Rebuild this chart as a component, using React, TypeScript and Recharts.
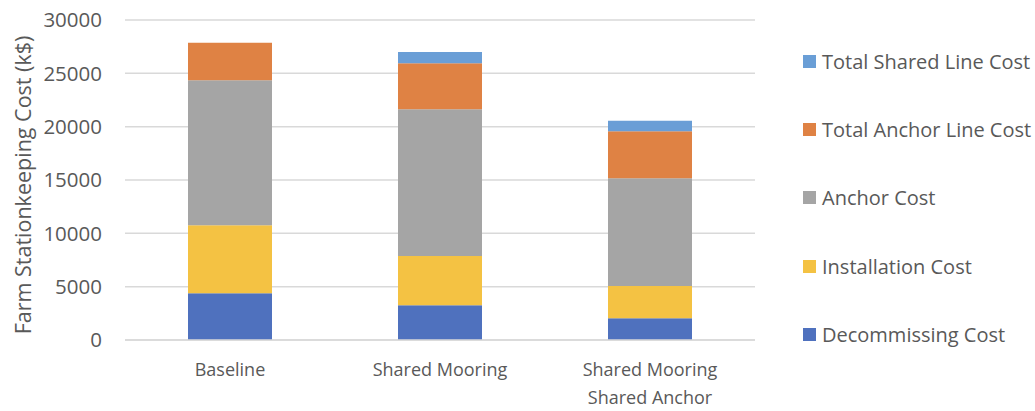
import React from "react";
import { BarChart, Bar, XAxis, YAxis, CartesianGrid } from "recharts";

const categories = ["Baseline", "Shared Mooring", "Shared Mooring\nShared Anchor"];
const decommissioning = [4380, 3250, 2030];
const installation = [6370, 4625, 3030];
const anchor = [13600, 13750, 10100];
const anchorLine = [3520, 4310, 4400];
const sharedLine = [0, 1060, 1000];
const yTicks = [0, 5000, 10000, 15000, 20000, 25000, 30000];

const seriesKeys = ["decom", "install", "anchor", "anchorLine", "sharedLine"];
const seriesNames = [
  "Decommissing Cost",
  "Installation Cost",
  "Anchor Cost",
  "Total Anchor Line Cost",
  "Total Shared Line Cost",
];
const seriesColors = ["#4F71BE", "#F4C243", "#A5A5A5", "#DF8244", "#6A9ED6"];

const data = categories.map((c, i) => ({
  name: c,
  decom: decommissioning[i],
  install: installation[i],
  anchor: anchor[i],
  anchorLine: anchorLine[i],
  sharedLine: sharedLine[i],
}));

const FONT = "'Open Sans', sans-serif";
const TEXT = "#595959";

const XTick = (props: any) => {
  const { x, y, payload } = props;
  const lines = String(payload.value).split("\n");
  return (
    <text x={x} y={y} textAnchor="middle" fill={TEXT} fontFamily={FONT} fontSize={18}>
      {lines.map((l, i) => (
        <tspan key={i} x={x} dy={28}>
          {l}
        </tspan>
      ))}
    </text>
  );
};

const LegendBox = () => {
  const items = seriesNames.map((n, i) => ({ n, c: seriesColors[i] })).reverse();
  return (
    <div
      style={{
        position: "absolute",
        left: 803,
        top: 27,
        width: 232,
        fontFamily: FONT,
        fontSize: 20,
        color: TEXT,
      }}
    >
      {items.map((it, i) => (
        <div key={i} style={{ height: 68.3, display: "flex", alignItems: "center" }}>
          <span style={{ width: 13, height: 13, background: it.c, display: "inline-block", marginRight: 6, flex: "none" }} />
          <span style={{ whiteSpace: "nowrap" }}>{it.n}</span>
        </div>
      ))}
    </div>
  );
};

export default function App() {
  return (
    <div style={{ position: "absolute", left: 0, top: 0, width: 1035, height: 411, background: "#fff" }}>
      <BarChart
        width={1035}
        height={411}
        data={data}
        margin={{ top: 20, right: 280, bottom: 0, left: 0 }}
        barCategoryGap="30%"
      >
        <CartesianGrid vertical={false} stroke="#D9D9D9" strokeWidth={1.5} />
        <XAxis
          dataKey="name"
          height={71}
          tickLine={false}
          axisLine={{ stroke: "#D9D9D9", strokeWidth: 1.5 }}
          tick={<XTick />}
          interval={0}
        />
        <YAxis
          width={125}
          domain={[0, 30000]}
          ticks={yTicks}
          tickLine={false}
          axisLine={false}
          tickMargin={17}
          tick={{ fill: TEXT, fontFamily: FONT, fontSize: 20.5 }}
          label={{
            value: "Farm Stationkeeping Cost (k$)",
            angle: -90,
            position: "insideLeft",
            offset: 23,
            dy: 5,
            style: { textAnchor: "middle", fill: TEXT, fontFamily: FONT, fontSize: 21.5 },
          }}
        />
        {seriesKeys.map((k, i) => (
          <Bar
            key={k}
            dataKey={k}
            name={seriesNames[i]}
            stackId="a"
            fill={seriesColors[i]}
            isAnimationActive={false}
          />
        ))}
      </BarChart>
      <LegendBox />
    </div>
  );
}
